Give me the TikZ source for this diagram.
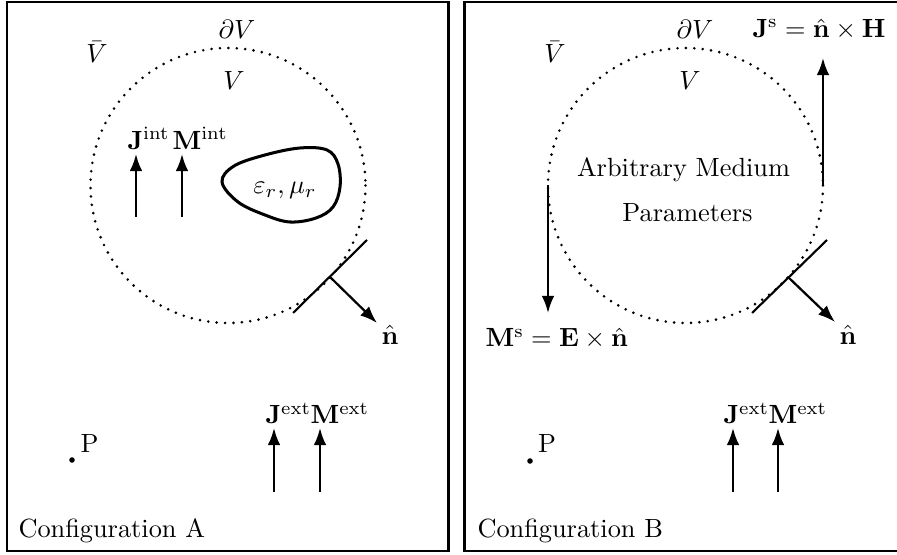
\documentclass[tikz,border=0pt]{standalone}
\usepackage{amsmath}
\usetikzlibrary{arrows.meta}
\tikzset{
  frame/.style={line width=0.95pt},
  vec/.style={line width=0.85pt,-{Latex[length=6.5pt,width=4.8pt]}},
  tanline/.style={line width=0.8pt},
  surf/.style={line width=1.1pt,line cap=round,dash pattern=on 0pt off 3.2pt},
  lbl/.style={inner sep=0pt},
  blobline/.style={line width=1.15pt},
  pdot/.style={circle,fill,inner sep=0pt,minimum size=2.1pt},
}
\begin{document}
\begin{tikzpicture}[x=0.38pt,y=-0.38pt]
\useasboundingbox (0,0) rectangle (897,555);

% ---------------- Configuration A ----------------
\draw[frame] (7,2) rectangle (448.5,551);
\coordinate (cA) at (228,185.5);
\draw[surf] (cA) circle[radius=137.5];

\node[lbl] (dVA) at (237,29) {$\partial V$};
\node[lbl] (VbA) at (97,52) {$\bar{V}$};
\node[lbl] (VA) at (234,81) {$V$};

\node[lbl,anchor=base west] (JintA) at (127,149.5) {$\mathbf{J}^{\mathrm{int}}$};
\node[lbl,anchor=base west] (MintA) at (172,149.5) {$\mathbf{M}^{\mathrm{int}}$};
\coordinate (jiA0) at (136,217);
\coordinate (jiA1) at (136,154);
\coordinate (miA0) at (182,217);
\coordinate (miA1) at (182,154);
\draw[vec] (jiA0) -- (jiA1);
\draw[vec] (miA0) -- (miA1);

\draw[blobline] plot[smooth cycle,tension=0.6] coordinates
  {(222,182) (234,166) (265,155) (300,148) (327,150) (338,164) (340,187) (333,207) (316,218) (290,222) (265,215) (238,202)};
\node[lbl,anchor=base] (epsA) at (285,194) {$\varepsilon_r,\mu_r$};

\coordinate (tA1) at (367,240);
\coordinate (tA2) at (293,313);
\coordinate (nA0) at (330,277);
\coordinate (nA1) at (377,323);
\draw[tanline] (tA1) -- (tA2);
\draw[vec] (nA0) -- (nA1);
\node[lbl] (nhatA) at (390,335) {$\hat{\mathbf{n}}$};

\node[pdot] (PdotA) at (72,460) {};
\node[lbl] (PA) at (89.5,443.5) {P};

\node[lbl,anchor=base west] (JextA) at (265,424) {$\mathbf{J}^{\mathrm{ext}}$};
\node[lbl,anchor=base west] (MextA) at (310,424) {$\mathbf{M}^{\mathrm{ext}}$};
\coordinate (jeA0) at (274,492);
\coordinate (jeA1) at (274,428);
\coordinate (meA0) at (320,492);
\coordinate (meA1) at (320,428);
\draw[vec] (jeA0) -- (jeA1);
\draw[vec] (meA0) -- (meA1);

\node[lbl,anchor=base west] (cfgA) at (18,538) {Configuration A};

% ---------------- Configuration B ----------------
\draw[frame] (897,2) -- (464.5,2) -- (464.5,551) -- (897,551);
\coordinate (cB) at (685.5,185.5);
\draw[surf] (cB) circle[radius=137.5];

\node[lbl] (dVB) at (695,29) {$\partial V$};
\node[lbl,anchor=base west] (JsB) at (752,37.5) {$\mathbf{J}^{\mathrm{s}}=\hat{\mathbf{n}}\times\mathbf{H}$};
\node[lbl] (VbB) at (555,52) {$\bar{V}$};
\node[lbl] (VB) at (690,81) {$V$};

\node[lbl,anchor=base] (arbB) at (683.5,177) {Arbitrary Medium};
\node[lbl,anchor=base] (parB) at (687.5,222) {Parameters};

\coordinate (jsB0) at (823,185);
\coordinate (jsB1) at (823,58);
\draw[vec] (jsB0) -- (jsB1);
\coordinate (msB0) at (548,185);
\coordinate (msB1) at (548,313);
\draw[vec] (msB0) -- (msB1);
\node[lbl,anchor=base west] (MsB) at (485,347) {$\mathbf{M}^{\mathrm{s}}=\mathbf{E}\times\hat{\mathbf{n}}$};

\coordinate (tB1) at (827,240);
\coordinate (tB2) at (752,313);
\coordinate (nB0) at (788,277);
\coordinate (nB1) at (835,322);
\draw[tanline] (tB1) -- (tB2);
\draw[vec] (nB0) -- (nB1);
\node[lbl] (nhatB) at (848,335) {$\hat{\mathbf{n}}$};

\node[pdot] (PdotB) at (530,461) {};
\node[lbl] (PB) at (547,443.5) {P};

\node[lbl,anchor=base west] (JextB) at (723,424) {$\mathbf{J}^{\mathrm{ext}}$};
\node[lbl,anchor=base west] (MextB) at (768,424) {$\mathbf{M}^{\mathrm{ext}}$};
\coordinate (jeB0) at (733,492);
\coordinate (jeB1) at (733,428);
\coordinate (meB0) at (778,492);
\coordinate (meB1) at (778,428);
\draw[vec] (jeB0) -- (jeB1);
\draw[vec] (meB0) -- (meB1);

\node[lbl,anchor=base west] (cfgB) at (477,538) {Configuration B};
\end{tikzpicture}
\end{document}
